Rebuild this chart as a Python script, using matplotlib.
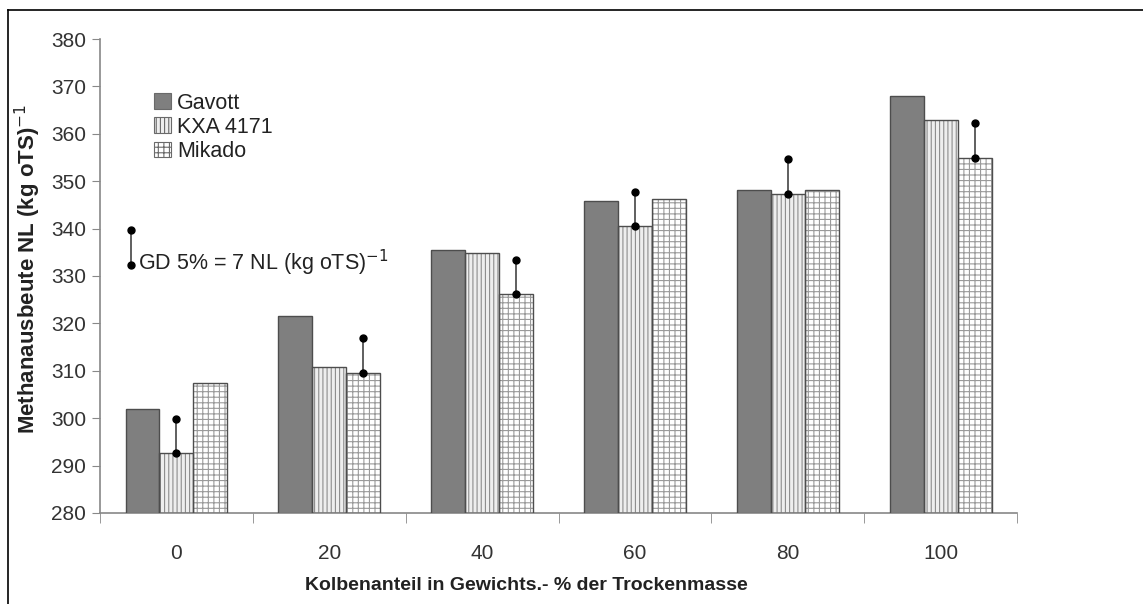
import numpy as np
import matplotlib
matplotlib.use("Agg")
import matplotlib.pyplot as plt
from matplotlib.lines import Line2D
from matplotlib.patches import Patch

plt.rcParams['font.family'] = ['Liberation Sans', 'DejaVu Sans']
plt.rcParams['hatch.linewidth'] = 0.8

# Daten
groups = ['0', '20', '40', '60', '80', '100']
varieties = ['Gavott', 'KXA 4171', 'Mikado']
gavott = [302.0, 321.6, 335.5, 345.9, 348.2, 368.0]
kxa = [292.6, 310.7, 334.8, 340.5, 347.4, 363.0]
mikado = [307.4, 309.6, 326.1, 346.2, 348.2, 354.9]
# welcher Balken (0=Gavott, 1=KXA, 2=Mikado) bekommt die GD-Markierung
gd_bar = [1, 2, 2, 1, 1, 2]
gd_value = 7
gd_drawn = 7.3

series = [gavott, kxa, mikado]
faces = ['#7f7f7f', '#eeeeee', '#ffffff']
hatches = [None, '||||', '+++']
hatch_cols = ['#7f7f7f', '#8c8c8c', '#9a9a9a']

fig = plt.figure(figsize=(11.43, 6.04), dpi=100)
ax = fig.add_axes([0.0875, 0.1507, 0.8023, 0.7847])

x = np.arange(len(groups))
w = 0.222
for i, vals in enumerate(series):
    pos = x + (i - 1) * w
    # Schraffur in grau, Umriss separat
    ax.bar(pos, np.array(vals) - 280, w, bottom=280, color=faces[i],
           hatch=hatches[i], edgecolor=hatch_cols[i], linewidth=0, zorder=2)
    ax.bar(pos, np.array(vals) - 280, w, bottom=280, fill=False,
           edgecolor='#4d4d4d', linewidth=1.0, zorder=3)

# GD-Balken auf den Säulen
for k, b in enumerate(gd_bar):
    xp = x[k] + (b - 1) * w
    y0 = series[b][k]
    ax.plot([xp, xp], [y0, y0 + gd_drawn], color='#444444', lw=1.2, zorder=4)
    ax.plot([xp, xp], [y0, y0 + gd_drawn], 'o', color='black', ms=5, zorder=5)

# GD-Referenz
gx = -0.30
ax.plot([gx, gx], [332.3, 332.3 + gd_drawn], color='#444444', lw=1.2, zorder=4)
ax.plot([gx, gx], [332.3, 332.3 + gd_drawn], 'o', color='black', ms=5, zorder=5)
ax.text(gx + 0.05, 332.8, f'GD 5% = {gd_value} NL (kg oTS)$^{{-1}}$',
        fontsize=15.5, color='#222222', va='center', ha='left')

ax.set_xlim(-0.5, len(groups) - 0.5)
ax.set_ylim(280, 380)
ax.set_yticks(np.arange(280, 381, 10))
ax.set_xticks(x)
ax.set_xticklabels(groups)
ax.set_xticks(np.arange(-0.5, len(groups), 1), minor=True)
ax.tick_params(axis='x', which='major', length=0, pad=22, labelsize=15, labelcolor='#333333')
ax.tick_params(axis='x', which='minor', length=7, color='#888888', direction='out')
ax.tick_params(axis='y', length=6, color='#888888', labelsize=15, labelcolor='#333333', pad=4)

for s in ['top', 'right']:
    ax.spines[s].set_visible(False)
for s in ['left', 'bottom']:
    ax.spines[s].set_color('#888888')
    ax.spines[s].set_linewidth(1.2)

ax.set_xlabel('Kolbenanteil in Gewichts.- % der Trockenmasse', fontsize=14,
              fontweight='bold', color='#222222')
ax.xaxis.set_label_coords(0.465, -0.135)
ax.set_ylabel('Methanausbeute NL (kg oTS)$^{-1}$', fontsize=16,
              fontweight='bold', color='#222222')
ax.yaxis.set_label_coords(-0.062, 0.515)

handles = [Patch(facecolor=faces[i], hatch=hatches[i], edgecolor='#6a6a6a', lw=0.8)
           for i in range(3)]
leg = ax.legend(handles, varieties, loc='upper left', bbox_to_anchor=(0.05, 0.905),
                frameon=False, fontsize=15.5, handlelength=0.75, handleheight=0.75,
                handletextpad=0.3, labelspacing=0.15, borderaxespad=0)
for t in leg.get_texts():
    t.set_color('#222222')

# Rahmen oben und links
fig.add_artist(Line2D([8 / 1143, 8 / 1143], [0, 1 - 10 / 604], color='black', lw=1.2))
fig.add_artist(Line2D([8 / 1143, 1], [1 - 10 / 604, 1 - 10 / 604], color='black', lw=1.2))

fig.savefig('out.png', dpi=100)
